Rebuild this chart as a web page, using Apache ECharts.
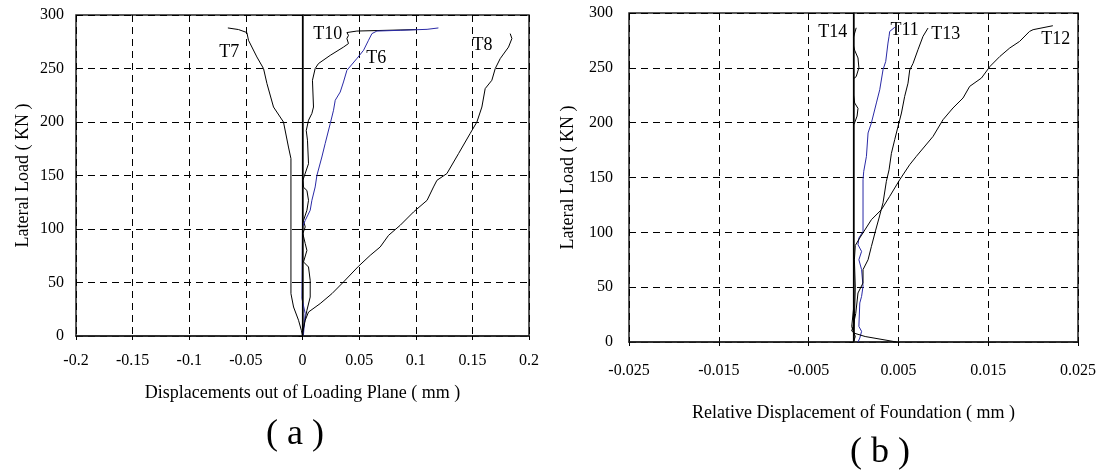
<!DOCTYPE html>
<html>
<head>
<meta charset="utf-8">
<script src="https://cdn.jsdelivr.net/npm/echarts@6/dist/echarts.min.js"></script>
<style>
  html, body { margin: 0; padding: 0; background: #fff; }
  #chart { width: 1109px; height: 476px; }
</style>
</head>
<body>
<div id="chart"></div>
<script>
// (a) 加载平面外位移  [位移 mm, 荷载 KN]
var t7 = [[0,0],[-0.001,5.3],[-0.0035,14.7],[-0.0079,27.1],[-0.0102,39.6],[-0.0102,165.8],[-0.0124,176.6],[-0.0168,200],[-0.0256,214],[-0.0314,235.9],[-0.0344,249.9],[-0.0403,260.8],[-0.0477,276.4],[-0.0491,283.6],[-0.0565,286.4],[-0.0659,287.9]];
var t10 = [[0,0],[0.0009,8.4],[0.0039,24],[0.0068,36.4],[0.0068,52],[0.0053,64.5],[0.0009,69.2],[0.0039,80],[0.0024,86.4],[0.0003,95.7],[0.0024,101.9],[0.0009,108],[0.0039,117.5],[0.0053,126.8],[0.0039,136],[0.0009,139],[0.0003,145.5],[0.0053,161],[0.0044,183],[0.0033,192],[0.0053,201.6],[0.0083,208],[0.0097,214],[0.0088,239],[0.0112,250],[0.0141,254.6],[0.0245,262.3],[0.0362,270],[0.0406,273.3],[0.0392,278],[0.0406,281],[0.0392,283.6],[0.048,285],[0.101,286.4]];
var t6 = [[0,0],[0.0009,2.2],[0.0024,21],[-0.0005,35],[0,101.9],[0.0024,108],[0.0068,117.5],[0.0083,126.8],[0.0112,139.3],[0.0127,150],[0.0171,167.3],[0.02,179.8],[0.0245,198.5],[0.0274,211],[0.0289,220.3],[0.0333,228],[0.0362,237.4],[0.0392,248.3],[0.048,259.3],[0.0539,267],[0.0583,276.4],[0.0613,282.6],[0.0657,285],[0.0863,285.7],[0.11,286.6],[0.12,287.9]];
var t8 = [[0,0],[0.0003,3.7],[0.0024,14.7],[0.0053,22.4],[0.0156,30.3],[0.026,39.6],[0.0362,50.5],[0.0494,65.1],[0.0598,75.4],[0.0686,83.2],[0.076,94.1],[0.0863,103.5],[0.098,115.9],[0.11,126.8],[0.1157,139.3],[0.1187,145.5],[0.1275,151.8],[0.1378,170.5],[0.148,189.2],[0.154,200],[0.1584,214],[0.1613,231.2],[0.1672,239],[0.1702,250],[0.1746,259.3],[0.1819,270],[0.1849,278],[0.1834,282.6]];

// (b) 基础相对位移
var t14 = [[0,0],[0.0002,5],[-0.0002,14],[0,30],[0,198],[0.00013,200],[0.0004,206],[0.0005,213],[0.00013,218],[0,225],[0,240],[0.0003,242],[0.0006,250],[0.0005,259],[0.00013,266],[0,270],[0,278],[0.00005,279],[0.0003,286.5]];
var t11 = [[0.0005,0],[0.0007,3.6],[0.0009,9.7],[0.0006,14.2],[0.0007,35.6],[0.0009,41.6],[0.00106,50.7],[0.0009,66],[0.0006,75],[0.0009,82.6],[0.0005,88.7],[0.0006,94.8],[0.00106,100.9],[0.00106,148],[0.00114,155.6],[0.00144,169.3],[0.00162,190.6],[0.00199,199.7],[0.00255,218],[0.00292,230],[0.00329,248.3],[0.00359,255.9],[0.00384,272.6],[0.00396,278.7],[0.00403,283.2],[0.0046,287]];
var t13 = [[0.0048,0],[0.0013,5],[0.0001,8],[-0.0002,10],[-0.00006,14],[0.00025,26],[0.0005,44.7],[0.00106,53.8],[0.00106,66],[0.00162,75],[0.00199,87],[0.00247,102],[0.00284,113],[0.00329,127],[0.00366,146.5],[0.00396,157],[0.00422,172],[0.00459,184.5],[0.00496,196.6],[0.00534,208.8],[0.0057,224],[0.00607,236],[0.00626,248],[0.00663,254],[0.00718,266.5],[0.00774,278.7],[0.0083,286.3]];
var t12 = [[0,0],[0.0001,20],[0.0002,50],[0.0001,75],[0.0002,88],[0.00069,94.8],[0.00199,111.5],[0.0031,120.6],[0.00403,132.8],[0.00515,148],[0.00626,161.7],[0.007,169.3],[0.00886,187.5],[0.00997,202.7],[0.01108,213.4],[0.0122,222.5],[0.01294,233.1],[0.01425,240.7],[0.0152,251.3],[0.0163,260.4],[0.0174,268.1],[0.0185,274.1],[0.0196,283.2],[0.02,284.8],[0.0222,288.4]];

// 曲线标注 [名称, x, y]
var labelsA = [['T7',-0.0647,265],['T10',0.0222,282],['T6',0.0651,259.5],['T8',0.159,271.7]];
var labelsB = [['T14',-0.00232,282],['T11',0.0057,283.9],['T13',0.01027,280.2],['T12',0.02252,275.7]];

// 刻度
var xTicksB = [-0.025,-0.015,-0.005,0.005,0.015,0.025];

var FONT = '"Liberation Serif", "DejaVu Serif", serif';
var chart = echarts.init(document.getElementById('chart'));

var dash = { type: [7, 5], color: '#000', width: 1 };
var axisTxt = { color: '#000', fontFamily: FONT, fontSize: 16 };
var nameTxt = { color: '#000', fontFamily: FONT, fontSize: 18 };

function marks(list) {
    return {
        symbol: 'circle', symbolSize: 1, silent: true,
        itemStyle: { color: 'rgba(0,0,0,0)' },
        label: { show: true, position: 'inside', formatter: '{b}', color: '#000', fontFamily: FONT, fontSize: 18 },
        data: list.map(function (l) { return { name: l[0], coord: [l[1], l[2]] }; })
    };
}
var zeroLine = {
    silent: true, symbol: ['none', 'none'], label: { show: false },
    lineStyle: { type: 'solid', color: '#000', width: 1.2 },
    data: [{ xAxis: 0 }]
};
function line(name, data, xi, yi, color) {
    return {
        name: name, type: 'line', data: data, xAxisIndex: xi, yAxisIndex: yi,
        showSymbol: false, symbol: 'none', animation: false,
        lineStyle: { color: color || '#000', width: 1 }
    };
}

var sA = [line('T7', t7, 0, 0), line('T10', t10, 0, 0), line('T6', t6, 0, 0, '#2a2aa6'), line('T8', t8, 0, 0)];
sA[0].markLine = zeroLine;
sA[0].markPoint = marks(labelsA);
var sB = [line('T14', t14, 1, 1), line('T11', t11, 1, 1, '#2a2aa6'), line('T13', t13, 1, 1), line('T12', t12, 1, 1)];
sB[0].markLine = zeroLine;
sB[0].markPoint = marks(labelsB);

var option = {
    backgroundColor: '#fff',
    animation: false,
    title: [
        { text: '( a )', left: 290, top: 412, textAlign: 'center', textStyle: { fontFamily: FONT, fontSize: 36, fontWeight: 'normal', color: '#000' } },
        { text: '( b )', left: 875, top: 430, textAlign: 'center', textStyle: { fontFamily: FONT, fontSize: 36, fontWeight: 'normal', color: '#000' } }
    ],
    grid: [
        { left: 76, top: 15, width: 453, height: 321, show: true, borderColor: '#222', borderWidth: 1.5, outerBoundsMode: 'none' },
        { left: 629, top: 13, width: 449, height: 329, show: true, borderColor: '#222', borderWidth: 1.5, outerBoundsMode: 'none' }
    ],
    xAxis: [
        {
            gridIndex: 0, type: 'value', position: 'bottom', min: -0.2, max: 0.2, interval: 0.05,
            name: 'Displacements out of Loading Plane ( mm )', nameLocation: 'middle', nameGap: 48, nameTextStyle: nameTxt,
            axisLine: { lineStyle: { color: '#222', width: 1.5 } },
            axisTick: { lineStyle: { color: '#000' }, length: 4 },
            axisLabel: Object.assign({ margin: 17 }, axisTxt),
            splitLine: { lineStyle: dash }
        },
        { gridIndex: 1, type: 'value', position: 'bottom', min: -0.025, max: 0.025, show: false, splitLine: { show: false } },
        {
            gridIndex: 1, type: 'value', position: 'bottom', min: 0, max: 0.05, interval: 0.01,
            name: 'Relative Displacement of Foundation ( mm )', nameLocation: 'middle', nameGap: 62, nameTextStyle: nameTxt,
            axisLine: { lineStyle: { color: '#222', width: 1.5 } },
            axisTick: { lineStyle: { color: '#000' }, length: 4 },
            axisLabel: Object.assign({
                margin: 21,
                formatter: function (v, i) { return String(xTicksB[i]); }
            }, axisTxt),
            splitLine: { lineStyle: dash }
        }
    ],
    yAxis: [
        {
            gridIndex: 0, type: 'value', min: 0, max: 300, interval: 50,
            name: 'Lateral Load ( KN )', nameLocation: 'middle', nameGap: 44, nameTextStyle: nameTxt,
            axisLine: { lineStyle: { color: '#222', width: 1.5 } },
            axisTick: { lineStyle: { color: '#000' }, length: 4 },
            axisLabel: Object.assign({ margin: 12 }, axisTxt),
            splitLine: { lineStyle: dash }
        },
        {
            gridIndex: 1, type: 'value', min: 0, max: 300, interval: 50,
            name: 'Lateral Load ( KN )', nameLocation: 'middle', nameGap: 52, nameTextStyle: nameTxt,
            axisLine: { lineStyle: { color: '#222', width: 1.5 } },
            axisTick: { lineStyle: { color: '#000' }, length: 4 },
            axisLabel: Object.assign({ margin: 16 }, axisTxt),
            splitLine: { lineStyle: dash }
        }
    ],
    series: sA.concat(sB)
};
chart.setOption(option);
</script>
</body>
</html>
